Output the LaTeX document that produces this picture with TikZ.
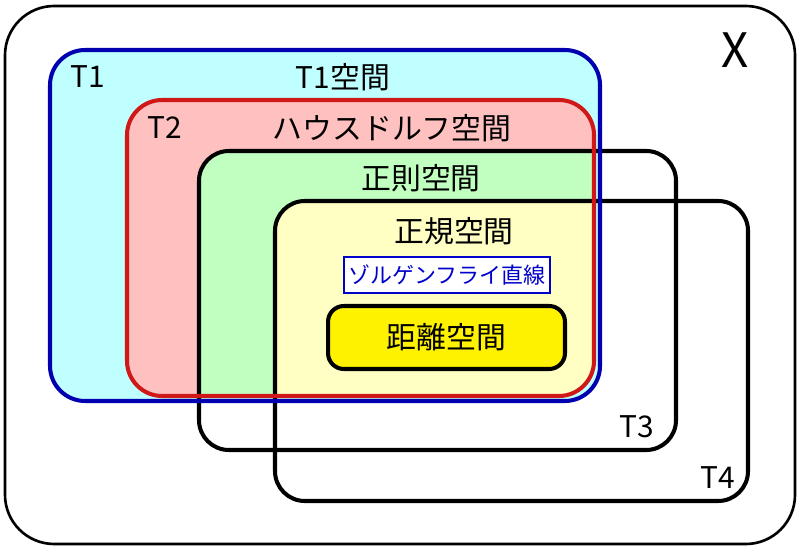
\documentclass[tikz,border=0pt]{standalone}
\usepackage{fontspec}
\setmainfont{Noto Sans CJK JP}
\usepackage{tikz}
\definecolor{cyanfill}{HTML}{C0FFFF}
\definecolor{pinkfill}{HTML}{FFC0C0}
\definecolor{greenfill}{HTML}{C0FFC0}
\definecolor{creamfill}{HTML}{FFFFC4}
\definecolor{darkblue}{HTML}{0000B0}
\definecolor{darkred}{HTML}{D01818}
\definecolor{textblue}{HTML}{0000CC}
\newcommand\regionT{(127,100) rectangle (594,396)}

\begin{document}
\begin{tikzpicture}[x=0.02cm, y=-0.02cm,
	zone/.style = {rounded corners=20pt, line width=2.3pt},
	inner/.style = {rounded corners=17pt, line width=2.3pt},
	tag/.style = {font=\fontsize{17}{20}\selectfont}]
	\useasboundingbox (0,0) rectangle (800,550);
	\draw[line width=1.5pt, rounded corners=28pt] (5,6) rectangle (795,544);
	\fill[cyanfill, zone] (50,50) rectangle (600,401);
	\fill[pinkfill, zone] \regionT;
	\begin{scope}
		\clip[rounded corners=20pt] \regionT;
		\fill[greenfill, inner] (199,151) rectangle (676,450);
		\fill[creamfill, inner] (275,201) rectangle (748,501);
	\end{scope}
	\draw[inner] (199,151) rectangle (676,450);
	\draw[inner] (275,201) rectangle (748,501);
	\node[draw=textblue, line width=1.2pt, fill=white, minimum width=4.12cm, minimum height=0.72cm, inner sep=0pt, text=textblue, font=\fontsize{12.5}{14}\selectfont] (sorgenfrey) at (447,275) {ゾルゲンフライ直線};
	\node[draw, line width=2.3pt, fill=yellow, rounded corners=9pt, minimum width=4.74cm, minimum height=1.26cm, tag] (metric) at (446.5,337.5) {距離空間};
	\draw[darkred, zone] \regionT;
	\draw[darkblue, zone] (50,50) rectangle (600,401);
	\node[tag] (t1) at (88,77) {T1};
	\node[tag] (t1name) at (343,77) {T1空間};
	\node[tag] (t2) at (165,128) {T2};
	\node[tag] (t2name) at (392,128) {ハウスドルフ空間};
	\node[tag] (t3name) at (421,178) {正則空間};
	\node[tag] (t4name) at (454,231) {正規空間};
	\node[tag] (t3) at (637,427) {T3};
	\node[tag] (t4) at (718,478) {T4};
	\node[font=\fontsize{27}{30}\selectfont] (X) at (735,50) {X};
\end{tikzpicture}
\end{document}
